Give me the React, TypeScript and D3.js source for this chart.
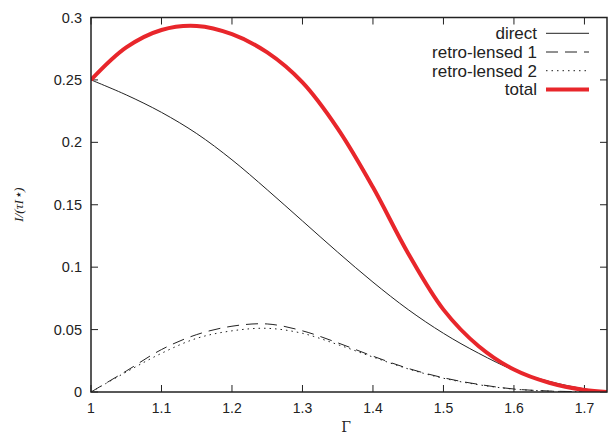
import React from "react";
import * as d3 from "d3";

const gamma = [1.0, 1.05, 1.1, 1.15, 1.2, 1.25, 1.3, 1.35, 1.4, 1.45, 1.5, 1.55, 1.6, 1.65, 1.7, 1.732];
const direct = [0.25, 0.238, 0.224, 0.207, 0.186, 0.162, 0.137, 0.112, 0.088, 0.066, 0.047, 0.031, 0.0175, 0.0085, 0.0025, 0.0];
const retro1 = [0.0, 0.0168, 0.034, 0.046, 0.0527, 0.0545, 0.049, 0.0394, 0.0287, 0.0189, 0.0114, 0.0061, 0.0024, 0.0008, 0.0002, 0.0];
const retro2 = [0.0, 0.016, 0.031, 0.043, 0.049, 0.051, 0.047, 0.038, 0.028, 0.0185, 0.011, 0.0058, 0.0023, 0.0007, 0.0001, 0.0];
const total = [0.25, 0.276, 0.29, 0.2932, 0.2866, 0.272, 0.248, 0.211, 0.164, 0.111, 0.066, 0.0367, 0.018, 0.0074, 0.0016, 0.0];

const xTicks = [1, 1.1, 1.2, 1.3, 1.4, 1.5, 1.6, 1.7];
const xTickLabels = ["1", "1.1", "1.2", "1.3", "1.4", "1.5", "1.6", "1.7"];
const yTicks = [0, 0.05, 0.1, 0.15, 0.2, 0.25, 0.3];
const yTickLabels = ["0", "0.05", "0.1", "0.15", "0.2", "0.25", "0.3"];

const seriesNames = ["direct", "retro-lensed 1", "retro-lensed 2", "total"];

const W = 610, H = 435;
const L = 91, R = 607, T = 17.5, B = 392;

export default function App() {
  const x = d3.scaleLinear().domain([1, 1.732]).range([L, R]);
  const y = d3.scaleLinear().domain([0, 0.3]).range([B, T]);
  const mk = (vals: number[]) =>
    d3
      .line<number>()
      .x((_, i) => x(gamma[i]))
      .y((v) => y(v))
      .curve(d3.curveCatmullRom.alpha(0.5))(vals) || "";

  const styles = [
    { stroke: "#222", width: 1, dash: undefined as string | undefined },
    { stroke: "#222", width: 1, dash: "12,7" },
    { stroke: "#222", width: 1, dash: "1.5,4" },
    { stroke: "#e8262b", width: 4, dash: undefined },
  ];
  const data = [direct, retro1, retro2, total];
  const font = "'Liberation Sans', Arial, Helvetica, sans-serif";
  const tick = 7;

  return (
    <svg width={W} height={H} style={{ position: "absolute", left: 0, top: 0, background: "#fff" }}>
      <defs>
        <clipPath id="clip">
          <rect x={L} y={T - 5} width={R - L} height={B - T + 5} />
        </clipPath>
      </defs>
      {xTicks.map((t, i) => (
        <g key={"x" + i}>
          <line x1={x(t)} x2={x(t)} y1={B} y2={B - tick} stroke="#222" />
          <line x1={x(t)} x2={x(t)} y1={T} y2={T + tick} stroke="#222" />
          <text x={x(t)} y={413} textAnchor="middle" fontFamily={font} fontSize={14} fill="#222">
            {xTickLabels[i]}
          </text>
        </g>
      ))}
      {yTicks.map((t, i) => (
        <g key={"y" + i}>
          <line x1={L} x2={L + tick} y1={y(t)} y2={y(t)} stroke="#222" />
          <line x1={R} x2={R - tick} y1={y(t)} y2={y(t)} stroke="#222" />
          <text x={82} y={y(t) + 5} textAnchor="end" fontFamily={font} fontSize={14.5} fill="#222">
            {yTickLabels[i]}
          </text>
        </g>
      ))}
      <g clipPath="url(#clip)">
        {data.map((d, i) => (
          <path
            key={"c" + i}
            d={mk(d)}
            fill="none"
            stroke={styles[i].stroke}
            strokeWidth={styles[i].width}
            strokeDasharray={styles[i].dash}
          />
        ))}
      </g>
      <rect x={L} y={T} width={R - L} height={B - T} fill="none" stroke="#222" strokeWidth={1.5} />
      {seriesNames.map((n, i) => {
        const ly = 33.3 + i * 18.7;
        return (
          <g key={"l" + i}>
            <text x={537} y={ly + 6} textAnchor="end" fontFamily={font} fontSize={17} fill="#222">
              {n}
            </text>
            <line
              x1={546}
              x2={589}
              y1={ly}
              y2={ly}
              stroke={styles[i].stroke}
              strokeWidth={styles[i].width}
              strokeDasharray={styles[i].dash}
            />
          </g>
        );
      })}
      <text x={346} y={432} textAnchor="middle" fontFamily="'DejaVu Serif', 'Liberation Serif', serif" fontSize={14} fill="#222">
        Γ
      </text>
      <text
        transform={`translate(23, ${(T + B) / 2}) rotate(-90)`}
        textAnchor="middle"
        fontFamily="'Liberation Serif', 'Times New Roman', serif"
        fontStyle="italic"
        fontSize={13.5}
        fill="#222"
      >
        I/(τI⋆)
      </text>
    </svg>
  );
}
